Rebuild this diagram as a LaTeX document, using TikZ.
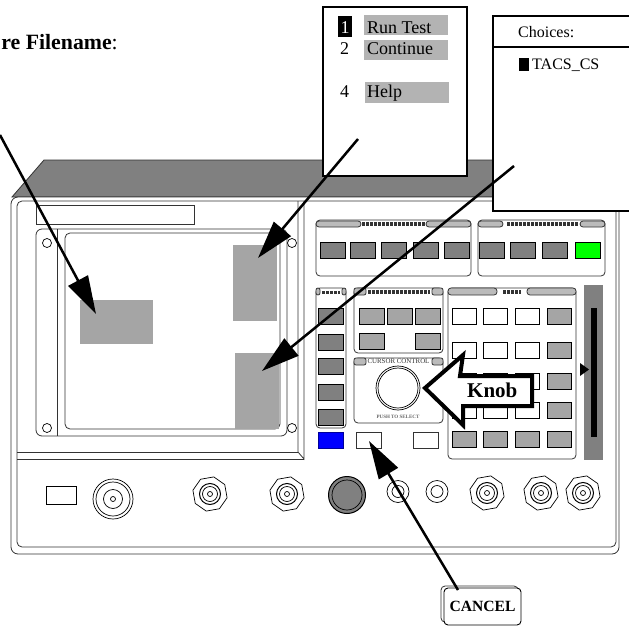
\documentclass[tikz,border=0pt]{standalone}
\usepackage{fontspec}
\setmainfont{Liberation Serif}
\usepackage{tikz}
\usetikzlibrary{arrows.meta,shapes.geometric}
\definecolor{shell}{HTML}{808080}
\definecolor{patch}{HTML}{A5A5A5}
\definecolor{tabfill}{HTML}{BBBBBB}
\definecolor{menubar}{HTML}{B3B3B3}
\definecolor{edgeink}{HTML}{333333}

\begin{document}
\begin{tikzpicture}
 [x=1pt,y=-1pt,
  outline/.style={draw=edgeink,line width=0.8pt},
  panel node/.style={rectangle,rounded corners=4pt,outline,inner sep=0pt},
  tab/.style={outline,fill=tabfill},
  ticks/.style={line width=3.5pt,dash pattern=on 3pt off 1pt,edgeink},
  white key/.style={rectangle,draw=black,line width=0.8pt,fill=white,inner sep=0pt,minimum width=24pt,minimum height=16pt},
  gray key/.style={white key,fill=patch},
  dark key/.style={white key,fill=shell,minimum width=25pt},
  screen patch/.style={rectangle,fill=patch,inner sep=0pt},
  menu text/.style={anchor=base west,inner sep=0pt,font=\fontsize{18}{18}\selectfont},
  choice text/.style={anchor=base west,inner sep=0pt,font=\fontsize{16}{16}\selectfont},
  ring/.style={circle,draw=black,line width=0.7pt,inner sep=0pt},
  nut/.style={regular polygon,regular polygon sides=8,shape border rotate=10,draw=black,line width=0.7pt,inner sep=0pt,minimum size=35pt},
  pointer/.style={-{Triangle[length=38pt,width=22pt]},line width=2.5pt,black}]

\useasboundingbox (0,0) rectangle (629,626);

% chassis
\draw[outline,fill=shell] (12,197) -- (44,160) -- (619,160) -- (619,197) -- cycle;
\draw[outline,fill=white,rounded corners=7pt] (11,197) rectangle (619,554);
\draw[outline,rounded corners=5pt] (17,201) rectangle (616,547);
\draw[outline] (36,205) rectangle (194,224);
\draw[outline] (298,201) -- (298,452) -- (304,459) -- (304,201);
\draw[outline] (17,452) -- (298,452);
\draw[outline,line width=1pt] (17,459) -- (304,459);

% display
\draw[outline,rounded corners=6pt] (36,229) rectangle (287,436);
\draw[outline] (57,229) -- (57,436);
\draw[outline,rounded corners=5pt] (65,233) rectangle (280,429);
\node[ring,fill=white,minimum size=9pt] (screwA) at (47,243) {};
\node[ring,fill=white,minimum size=9pt] (screwB) at (292,243) {};
\node[ring,fill=white,minimum size=9pt] (screwC) at (47,428) {};
\node[ring,fill=white,minimum size=9pt] (screwD) at (292,428) {};
\node[screen patch,minimum width=73pt,minimum height=44pt] (patchA) at (116.5,322) {};
\node[screen patch,minimum width=44pt,minimum height=76pt] (patchB) at (255,283) {};
\node[screen patch,minimum width=44pt,minimum height=76pt] (patchC) at (257,391) {};

% soft keys
\node[panel node,minimum width=155pt,minimum height=56pt] (softA) at (393.5,248) {};
\draw[tab,rounded corners=3pt] (316,227) |- (361,221) -- (361,227) -- cycle;
\draw[tab,rounded corners=3pt] (471,227) |- (426,221) -- (426,227) -- cycle;
\draw[ticks] (362,224) -- (426,224);
\node[dark key] (softA1) at (332.5,250.5) {};
\node[dark key] (softA2) at (362.5,250.5) {};
\node[dark key] (softA3) at (393.5,250.5) {};
\node[dark key] (softA4) at (425.5,250.5) {};
\node[dark key] (softA5) at (456.5,250.5) {};
\node[panel node,minimum width=127pt,minimum height=56pt] (softB) at (541.5,248) {};
\draw[tab,rounded corners=3pt] (478,227) |- (503,221) -- (503,227) -- cycle;
\draw[tab,rounded corners=3pt] (605,227) |- (580,221) -- (580,227) -- cycle;
\draw[ticks] (507,224) -- (579,224);
\node[dark key] (softB1) at (491.5,250.5) {};
\node[dark key] (softB2) at (522.5,250.5) {};
\node[dark key] (softB3) at (554.5,250.5) {};
\node[dark key,fill=green] (softB4) at (588,250.5) {};

% left column
\node[panel node,minimum width=30pt,minimum height=140pt] (column) at (331,358) {};
\draw[tab,rounded corners=2pt] (316,295) |- (320,288) -- (320,295) -- cycle;
\draw[tab,rounded corners=2pt] (346,295) |- (342,288) -- (342,295) -- cycle;
\draw[ticks,line width=3pt] (322,292) -- (340,292);
\node[dark key] (columnA) at (330.5,316) {};
\node[dark key] (columnB) at (330.5,342) {};
\node[dark key] (columnC) at (330.5,366) {};
\node[dark key] (columnD) at (330.5,392) {};
\node[dark key] (columnE) at (330.5,417) {};
\node[dark key,fill=blue,draw=blue!60!black] (blueKey) at (330.5,440.5) {};

% upper middle group
\node[panel node,minimum width=89pt,minimum height=65pt] (middle) at (398.5,320.5) {};
\draw[tab,rounded corners=2pt] (354,295) |- (366,288) -- (366,295) -- cycle;
\draw[tab,rounded corners=2pt] (443,295) |- (432,288) -- (432,295) -- cycle;
\draw[ticks] (368,292) -- (430,292);
\node[gray key,minimum width=25pt] (middleA) at (371.5,316) {};
\node[gray key,minimum width=25pt] (middleB) at (399.5,316) {};
\node[gray key,minimum width=25pt] (middleC) at (427.5,316) {};
\node[gray key,minimum width=25pt] (middleD) at (371.5,341) {};
\node[gray key,minimum width=25pt] (middleE) at (427.5,341) {};

% cursor control
\node[panel node,minimum width=89pt,minimum height=65pt] (cursor) at (398.5,390.5) {};
\draw[tab,rounded corners=2pt] (354,365) |- (366,358) -- (366,365) -- cycle;
\draw[tab,rounded corners=2pt] (443,365) |- (432,358) -- (432,365) -- cycle;
\node[inner sep=0pt,font=\fontsize{6.9}{7}\selectfont,text=edgeink] (cursorTitle) at (398.5,361.5) {CURSOR CONTROL};
\node[ring,minimum size=44pt] (knobOuter) at (398,388) {};
\node[ring,minimum size=40pt] (knobInner) at (398,388) {};
\node[inner sep=0pt,font=\fontsize{5}{5}\selectfont\bfseries,text=black!60] (pushLabel) at (398,417) {PUSH TO SELECT};
\node[white key,draw=edgeink,minimum width=25pt] (cancelKey) at (368.5,440.5) {};
\node[white key,draw=edgeink,minimum width=25pt] (spareKey) at (425.5,440.5) {};

% keypad
\node[panel node,minimum width=128pt,minimum height=171pt] (keypad) at (512,373.5) {};
\draw[tab,rounded corners=3pt] (448,295) |- (497,288) -- (497,295) -- cycle;
\draw[tab,rounded corners=3pt] (576,295) |- (527,288) -- (527,295) -- cycle;
\draw[ticks] (503,292) -- (521,292);
\node[white key] (padA1) at (464,316) {};
\node[white key] (padA2) at (495,316) {};
\node[white key] (padA3) at (527,316) {};
\node[gray key] (padA4) at (559.5,316) {};
\node[white key] (padB1) at (464,350) {};
\node[white key] (padB2) at (495,350) {};
\node[white key] (padB3) at (527,350) {};
\node[gray key] (padB4) at (559.5,350) {};
\node[white key] (padC1) at (464,381) {};
\node[white key] (padC2) at (495,381) {};
\node[white key] (padC3) at (527,381) {};
\node[gray key] (padC4) at (559.5,381) {};
\node[white key] (padD1) at (464,410) {};
\node[white key] (padD2) at (495,410) {};
\node[white key] (padD3) at (527,410) {};
\node[gray key] (padD4) at (559.5,410) {};
\node[gray key] (padE1) at (464,439.5) {};
\node[gray key] (padE2) at (495,439.5) {};
\node[gray key] (padE3) at (527,439.5) {};
\node[gray key] (padE4) at (559.5,439.5) {};

% slider
\fill[shell] (584,285) rectangle (603,460);
\fill[black] (591,308) rectangle (597,437);
\fill[black] (580,363) -- (589,369.5) -- (580,376) -- cycle;

% connectors along the bottom
\node[draw=black,line width=0.7pt,inner sep=0pt,minimum width=30pt,minimum height=18pt] (slot) at (61,495) {};
\node[ring,minimum size=40pt] (bncA) at (113,499) {};
\node[ring,minimum size=34pt] (bncB) at (113,499) {};
\node[ring,minimum size=19pt] (bncC) at (113,499) {};
\node[ring,minimum size=5pt] (bncD) at (113,499) {};
\node[nut] (nutA) at (210,494) {};
\node[ring,minimum size=21pt,line width=1pt] (nutAa) at (210,494) {};
\node[ring,minimum size=15pt] (nutAb) at (210,494) {};
\node[ring,minimum size=5pt] (nutAc) at (210,494) {};
\node[nut] (nutB) at (287,494) {};
\node[ring,minimum size=21pt,line width=1pt] (nutBa) at (287,494) {};
\node[ring,minimum size=15pt] (nutBb) at (287,494) {};
\node[ring,minimum size=5pt] (nutBc) at (287,494) {};
\node[ring,fill=shell,minimum size=37pt,line width=1pt] (bigKnob) at (347,495) {};
\node[ring,minimum size=30pt] (bigKnobTop) at (347,495) {};
\node[ring,minimum size=22pt] (jackA) at (398,491.5) {};
\node[ring,minimum size=12pt] (jackAa) at (398,491.5) {};
\node[ring,minimum size=22pt] (jackB) at (437,491.5) {};
\node[ring,minimum size=12pt] (jackBa) at (437,491.5) {};
\node[nut] (nutC) at (487,493) {};
\node[ring,minimum size=21pt,line width=1pt] (nutCa) at (487,493) {};
\node[ring,minimum size=15pt] (nutCb) at (487,493) {};
\node[ring,minimum size=5pt] (nutCc) at (487,493) {};
\node[nut] (nutD) at (541,493) {};
\node[ring,minimum size=21pt,line width=1pt] (nutDa) at (541,493) {};
\node[ring,minimum size=15pt] (nutDb) at (541,493) {};
\node[ring,minimum size=5pt] (nutDc) at (541,493) {};
\node[nut] (nutE) at (583,493) {};
\node[ring,minimum size=21pt,line width=1pt] (nutEa) at (583,493) {};
\node[ring,minimum size=15pt] (nutEb) at (583,493) {};
\node[ring,minimum size=5pt] (nutEc) at (583,493) {};

% menu window
\draw[black,line width=1.6pt,fill=white] (323,7) rectangle (467,176);
\fill[menubar] (364,15) rectangle (448,35);
\fill[menubar] (364,40) rectangle (448,60);
\fill[menubar] (365,82) rectangle (449,103);
\fill[black] (338,16) rectangle (352,37);
\node[menu text,text=white] (numA) at (340.5,34) {1};
\node[menu text] (numB) at (340,55) {2};
\node[menu text] (numD) at (340,97) {4};
\node[menu text] (runTest) at (367,34) {Run Test};
\node[menu text] (contLabel) at (367,55) {Continue};
\node[menu text] (helpLabel) at (367,97) {Help};

% choices window
\fill[white] (493,16) rectangle (629,211);
\draw[black,line width=1.6pt] (629,16) -- (493,16) -- (493,211) -- (629,211);
\draw[black,line width=1.6pt] (493,47) -- (629,47);
\node[choice text] (choices) at (518,38) {Choices:};
\fill[black] (519,58) rectangle (529,71);
\node[choice text] (tacs) at (532,70) {TACS\_CS};

% labels and pointers
\node[anchor=base east,inner sep=0pt,font=\fontsize{21.8}{24}\selectfont] (fileLabel) at (118,49) {\textbf{re Filename}:};

\coordinate (fileTail) at (0,135);
\coordinate (fileTip) at (96,314);
\coordinate (menuTail) at (358,139);
\coordinate (menuTip) at (258,258);
\coordinate (choiceTail) at (514,166);
\coordinate (choiceTip) at (262,371);
\coordinate (cancelTail) at (458,590);
\coordinate (cancelTip) at (369,441);
\path
  (fileTail) edge [pointer] (fileTip)
  (menuTail) edge [pointer] (menuTip)
  (choiceTail) edge [pointer] (choiceTip);

% knob callout
\draw[black,line width=4pt,miter limit=6,fill=white] (425,388) -- (463,355) -- (460,376) -- (532,376) -- (532,406) -- (463,406) -- (463,425) -- cycle;
\node[anchor=base west,inner sep=0pt,font=\fontsize{21}{21}\selectfont\bfseries] (knobLabel) at (467,397) {Knob};

% cancel key
\draw[outline,fill=white,rounded corners=4pt] (441,586) rectangle (518,622);
\node[draw=black,line width=0.9pt,fill=white,rectangle,rounded corners=4pt,inner sep=0pt,minimum width=77pt,minimum height=37pt,font=\fontsize{15.6}{16}\selectfont\bfseries] (cancel) at (482.5,606.5) {CANCEL};
\path (cancelTail) edge [pointer] (cancelTip);

\end{tikzpicture}
\end{document}
